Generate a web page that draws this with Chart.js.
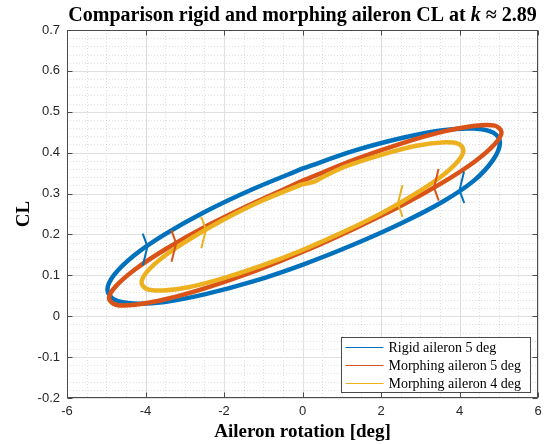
<!DOCTYPE html>
<html>
<head>
<meta charset="utf-8">
<script src="https://cdn.jsdelivr.net/npm/chart.js@4.4.1/dist/chart.umd.min.js"></script>
<style>
  html, body { margin: 0; padding: 0; background: #fff; }
</style>
</head>
<body>
<canvas id="cvs_grafico" width="553" height="444"></canvas>
<script>
// grafico.js - CL x ROTAÇÃO DO AILERON (LAÇOS DE HISTERESE)

const canvasGrafico = document.getElementById("cvs_grafico");

// DADOS (graus, CL) - cada laço começa no meio do ramo de cima
const rigido5X = [0.03, 1.32, 2.53, 3.57, 4.36, 4.86, 5.03, 4.86, 4.36, 3.57, 2.53, 1.32, 0.03,
  -1.26, -2.47, -3.51, -4.30, -4.80, -4.97, -4.80, -4.30, -3.51, -2.47, -1.26, 0.03];
const rigido5Y = [0.362, 0.405, 0.436, 0.455, 0.459, 0.449, 0.425, 0.383, 0.331, 0.280, 0.228, 0.176, 0.127,
  0.085, 0.054, 0.035, 0.031, 0.041, 0.065, 0.101, 0.148, 0.200, 0.256, 0.311, 0.362];

const morphing5X = [0.07, 1.36, 2.57, 3.61, 4.40, 4.90, 5.07, 4.90, 4.40, 3.61, 2.57, 1.36, 0.07,
  -1.22, -2.43, -3.47, -4.26, -4.76, -4.93, -4.76, -4.26, -3.47, -2.43, -1.22, 0.07];
const morphing5Y = [0.334, 0.384, 0.424, 0.452, 0.466, 0.466, 0.450, 0.421, 0.379, 0.329, 0.273, 0.216, 0.160,
  0.110, 0.070, 0.042, 0.028, 0.028, 0.044, 0.073, 0.115, 0.165, 0.221, 0.278, 0.334];

const morphing4X = [0.00, 0.30, 0.45, 1.06, 2.05, 2.90, 3.55, 3.96, 4.10, 3.96, 3.55, 2.90, 2.05, 1.06, 0.00,
  -1.06, -2.05, -2.90, -3.55, -3.96, -4.10, -3.96, -3.55, -2.90, -2.05, -1.06, 0.00];
const morphing4Y = [0.323, 0.329, 0.337, 0.365, 0.396, 0.417, 0.425, 0.422, 0.406, 0.379, 0.343, 0.301, 0.254, 0.207, 0.162,
  0.123, 0.092, 0.071, 0.063, 0.066, 0.082, 0.109, 0.145, 0.187, 0.234, 0.281, 0.323];

// setas de sentido: posição em x e em qual ramo do laço
const setasRigido5 = [{ x: -3.95, ramo: "cima" }, { x: 4.0, ramo: "baixo" }];
const setasMorphing5 = [{ x: -3.22, ramo: "cima" }, { x: 3.35, ramo: "baixo" }];
const setasMorphing4 = [{ x: -2.46, ramo: "cima" }, { x: 2.43, ramo: "baixo" }];

const legendas = ["Rigid aileron 5 deg", "Morphing aileron 5 deg", "Morphing aileron 4 deg"];
const cores = ["#0072BD", "#D95319", "#EDB120"];

const ticksX = [-6, -4, -2, 0, 2, 4, 6];
const ticksY = [-0.2, -0.1, 0, 0.1, 0.2, 0.3, 0.4, 0.5, 0.6, 0.7];

function juntar(xs, ys) {
  return xs.map((x, i) => ({ x: x, y: ys[i] }));
}

// GRADE (linhas principais e secundárias pontilhadas)
const pluginGrade = {
  id: "grade",
  beforeDatasetsDraw(chart) {
    const ctx = chart.ctx;
    const a = chart.chartArea;
    const sx = chart.scales.x;
    const sy = chart.scales.y;
    ctx.save();
    ctx.lineWidth = 1;

    // secundárias
    ctx.strokeStyle = "rgba(0,0,0,0.12)";
    ctx.setLineDash([1, 2]);
    for (let i = 0; i <= 24; i++) {
      const v = sx.min + i * 0.5;
      if (ticksX.some((t) => Math.abs(t - v) < 1e-6)) continue;
      const px = Math.round(sx.getPixelForValue(v)) + 0.5;
      ctx.beginPath(); ctx.moveTo(px, a.top); ctx.lineTo(px, a.bottom); ctx.stroke();
    }
    for (let i = 0; i <= 45; i++) {
      const v = sy.min + i * 0.02;
      if (ticksY.some((t) => Math.abs(t - v) < 1e-6)) continue;
      const py = Math.round(sy.getPixelForValue(v)) + 0.5;
      ctx.beginPath(); ctx.moveTo(a.left, py); ctx.lineTo(a.right, py); ctx.stroke();
    }

    // principais
    ctx.setLineDash([]);
    ctx.strokeStyle = "#dfdfdf";
    ticksX.forEach((v) => {
      const px = Math.round(sx.getPixelForValue(v)) + 0.5;
      ctx.beginPath(); ctx.moveTo(px, a.top); ctx.lineTo(px, a.bottom); ctx.stroke();
    });
    ticksY.forEach((v) => {
      const py = Math.round(sy.getPixelForValue(v)) + 0.5;
      ctx.beginPath(); ctx.moveTo(a.left, py); ctx.lineTo(a.right, py); ctx.stroke();
    });
    ctx.restore();
  },

  // SETAS
  afterDatasetsDraw(chart) {
    const ctx = chart.ctx;
    const sx = chart.scales.x;
    const sy = chart.scales.y;
    ctx.save();
    chart.data.datasets.forEach((ds) => {
      const pts = ds.data;
      (ds.setas || []).forEach((seta) => {
        for (let k = 0; k < pts.length - 1; k++) {
          const p0 = pts[k], p1 = pts[k + 1];
          const indoDireita = p1.x > p0.x;
          if ((seta.ramo == "cima") !== indoDireita) continue;
          if (seta.x < Math.min(p0.x, p1.x) || seta.x > Math.max(p0.x, p1.x)) continue;
          const t = (seta.x - p0.x) / (p1.x - p0.x);
          const yv = p0.y + t * (p1.y - p0.y);
          let dx = p1.x - p0.x, dy = p1.y - p0.y;
          const n = Math.hypot(dx, dy);
          dx = -dx / n; dy = -dy / n;
          const ang = 18 * Math.PI / 180, L = 0.125;
          const braco = (s) => ({
            x: seta.x + L * (dx * Math.cos(s * ang) - dy * Math.sin(s * ang)),
            y: yv + L * (dx * Math.sin(s * ang) + dy * Math.cos(s * ang)),
          });
          const b1 = braco(1), b2 = braco(-1);
          ctx.strokeStyle = ds.borderColor;
          ctx.lineWidth = 2;
          ctx.lineJoin = "miter";
          ctx.beginPath();
          ctx.moveTo(sx.getPixelForValue(b1.x), sy.getPixelForValue(b1.y));
          ctx.lineTo(sx.getPixelForValue(seta.x), sy.getPixelForValue(yv));
          ctx.lineTo(sx.getPixelForValue(b2.x), sy.getPixelForValue(b2.y));
          ctx.stroke();
          break;
        }
      });
    });
    ctx.restore();
  },

  // CAIXA, TÍTULOS E LEGENDA
  afterDraw(chart) {
    const ctx = chart.ctx;
    const a = chart.chartArea;
    const sx = chart.scales.x;
    const sy = chart.scales.y;
    ctx.save();

    // caixa e marcas
    ctx.strokeStyle = "#4a4a4a";
    ctx.lineWidth = 1;
    const L = Math.round(a.left) + 0.5, R = Math.round(a.right) - 0.5;
    const T = Math.round(a.top) + 0.5, B = Math.round(a.bottom) - 0.5;
    ctx.strokeRect(L, T, R - L, B - T);
    ticksX.forEach((v) => {
      const px = Math.round(sx.getPixelForValue(v)) + 0.5;
      ctx.beginPath(); ctx.moveTo(px, B); ctx.lineTo(px, B - 5); ctx.stroke();
      ctx.beginPath(); ctx.moveTo(px, T); ctx.lineTo(px, T + 5); ctx.stroke();
    });
    ticksY.forEach((v) => {
      const py = Math.round(sy.getPixelForValue(v)) + 0.5;
      ctx.beginPath(); ctx.moveTo(L, py); ctx.lineTo(L + 5, py); ctx.stroke();
      ctx.beginPath(); ctx.moveTo(R, py); ctx.lineTo(R - 5, py); ctx.stroke();
    });

    // título com k em itálico
    ctx.fillStyle = "#000";
    ctx.textBaseline = "alphabetic";
    const partes = [
      ["Comparison rigid and morphing aileron CL at ", "bold 20px 'Liberation Serif'"],
      ["k", "italic bold 20px 'Liberation Serif'"],
      [" \u2248 2.89", "bold 20px 'Liberation Serif'"],
    ];
    let total = 0;
    partes.forEach((p) => { ctx.font = p[1]; total += ctx.measureText(p[0]).width; });
    let xt = (a.left + a.right) / 2 - total / 2;
    partes.forEach((p) => {
      ctx.font = p[1];
      ctx.fillText(p[0], xt, 21);
      xt += ctx.measureText(p[0]).width;
    });

    // nomes dos eixos
    ctx.font = "bold 19px 'Liberation Serif'";
    ctx.textAlign = "center";
    ctx.fillText("Aileron rotation [deg]", (a.left + a.right) / 2, 437);
    ctx.save();
    ctx.translate(29, (a.top + a.bottom) / 2);
    ctx.rotate(-Math.PI / 2);
    ctx.fillText("CL", 0, 0);
    ctx.restore();

    // legenda
    const larg = 189, alt = 55;
    const lx = Math.round(a.right - 8 - larg) + 0.5;
    const ly = Math.round(a.bottom - 6 - alt) + 0.5;
    ctx.fillStyle = "#fff";
    ctx.fillRect(lx, ly, larg, alt);
    ctx.strokeStyle = "#4a4a4a";
    ctx.lineWidth = 1;
    ctx.strokeRect(lx, ly, larg, alt);
    ctx.font = "14px 'Liberation Serif'";
    ctx.textAlign = "left";
    ctx.textBaseline = "middle";
    chart.data.datasets.forEach((ds, i) => {
      const yy = ly + 10 + i * 18;
      ctx.strokeStyle = cores[i];
      ctx.lineWidth = 1.2;
      ctx.beginPath(); ctx.moveTo(lx + 4, yy); ctx.lineTo(lx + 42, yy); ctx.stroke();
      ctx.fillStyle = "#000";
      ctx.fillText(ds.label, lx + 47, yy + 1);
    });
    ctx.restore();
  },
};

function criarSerie(i, xs, ys, setas, ordem) {
  return {
    label: legendas[i],
    data: juntar(xs, ys),
    borderColor: cores[i],
    backgroundColor: cores[i],
    borderWidth: 4.5,
    showLine: true,
    pointRadius: 0,
    tension: 0.35,
    fill: false,
    order: ordem,
    setas: setas,
  };
}

new Chart(canvasGrafico, {
  type: "scatter",
  data: {
    datasets: [
      criarSerie(0, rigido5X, rigido5Y, setasRigido5, 3),
      criarSerie(1, morphing5X, morphing5Y, setasMorphing5, 2),
      criarSerie(2, morphing4X, morphing4Y, setasMorphing4, 1),
    ],
  },
  options: {
    responsive: false,
    animation: false,
    devicePixelRatio: 1,
    layout: { padding: { top: 30, right: 15, left: 0, bottom: 0 } },
    plugins: { legend: { display: false }, tooltip: { enabled: false }, title: { display: false } },
    scales: {
      x: {
        type: "linear",
        min: -6,
        max: 6,
        grid: { display: false, drawTicks: false },
        border: { display: false },
        afterBuildTicks: (s) => { s.ticks = ticksX.map((v) => ({ value: v })); },
        afterFit: (s) => { s.height = 46; },
        ticks: {
          autoSkip: false,
          maxRotation: 0,
          padding: 6,
          color: "#262626",
          font: { family: "'Liberation Sans'", size: 13 },
          callback: (v) => String(v),
        },
      },
      y: {
        type: "linear",
        min: -0.2,
        max: 0.7,
        grid: { display: false, drawTicks: false },
        border: { display: false },
        afterBuildTicks: (s) => { s.ticks = ticksY.map((v) => ({ value: v })); },
        afterFit: (s) => { s.width = 67; },
        ticks: {
          autoSkip: false,
          padding: 7,
          color: "#262626",
          font: { family: "'Liberation Sans'", size: 13 },
          callback: (v) => String(Math.round(v * 10) / 10),
        },
      },
    },
  },
  plugins: [pluginGrade],
});
</script>
</body>
</html>
